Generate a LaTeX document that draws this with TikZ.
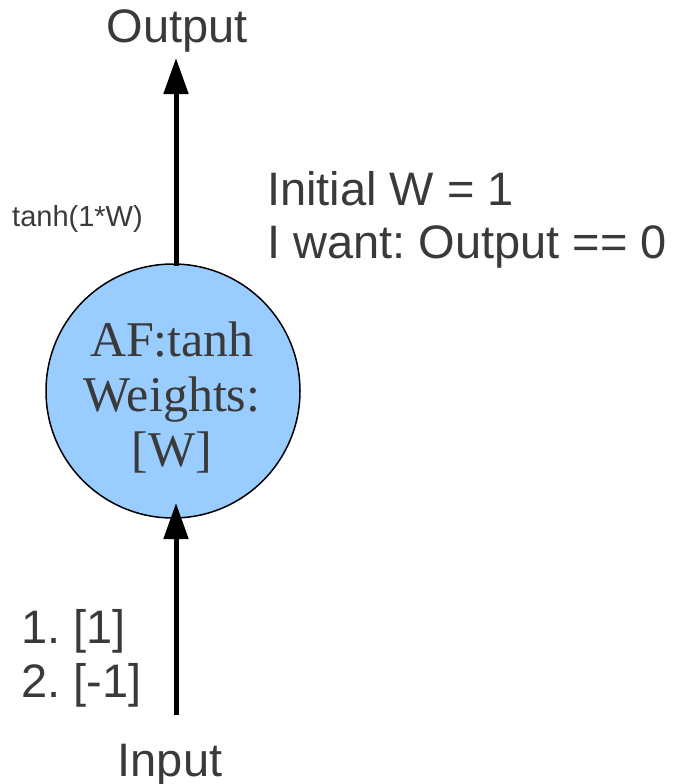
\documentclass[tikz,border=0pt]{standalone}
\usepackage{fontspec}
\setmainfont{Liberation Sans}
\newfontfamily\serifface{Liberation Serif}
\usetikzlibrary{arrows.meta}
\frenchspacing
\definecolor{txt}{HTML}{3A3A3A}
\definecolor{neuron}{HTML}{99CCFF}
\tikzset{
  lbl/.style={text=txt, inner sep=0pt, anchor=base west, font=\fontsize{47}{54}\selectfont},
  small/.style={text=txt, inner sep=0pt, anchor=base west, font=\fontsize{29}{34}\selectfont},
  neuronbox/.style={circle, draw=black, line width=1.5pt, fill=neuron, minimum size=254pt, inner sep=0pt},
  neurontext/.style={text=txt, inner sep=0pt, anchor=center, align=center, font=\serifface\fontsize{50}{55}\selectfont},
  arr/.style={line width=5pt, -{Triangle[length=36pt,width=24pt]}}
}
\begin{document}
\begin{tikzpicture}[x=1pt,y=-1pt]
\useasboundingbox (0,0) rectangle (679,784);
\node[neuronbox] (nd) at (173,391) {};
\node[neurontext] (ndtext) at (172,397) {AF:tanh\\Weights:\\{[W]}};
\node[text=txt, inner sep=0pt, anchor=base, font=\fontsize{47}{54}\selectfont] (out) at (177,43) {Output};
\node[text=txt, inner sep=0pt, anchor=base, font=\fontsize{47}{54}\selectfont] (in) at (170,776) {Input};
\node[small] (th) at (12,226) {tanh(1*W)};
\node[lbl] (l1) at (267,205) {Initial W = 1};
\node[lbl] (l2) at (267,258) {I want: Output == 0};
\node[lbl] (i1) at (21,643) {1. [1]};
\node[lbl] (i2) at (21,697) {2. [-1]};
\coordinate (outbase) at (176,266);
\coordinate (outtip) at (176,58);
\coordinate (inbase) at (176,715);
\coordinate (intip) at (176,503);
\draw[arr] (outbase) -- (outtip);
\draw[arr] (inbase) -- (intip);
\end{tikzpicture}
\end{document}
